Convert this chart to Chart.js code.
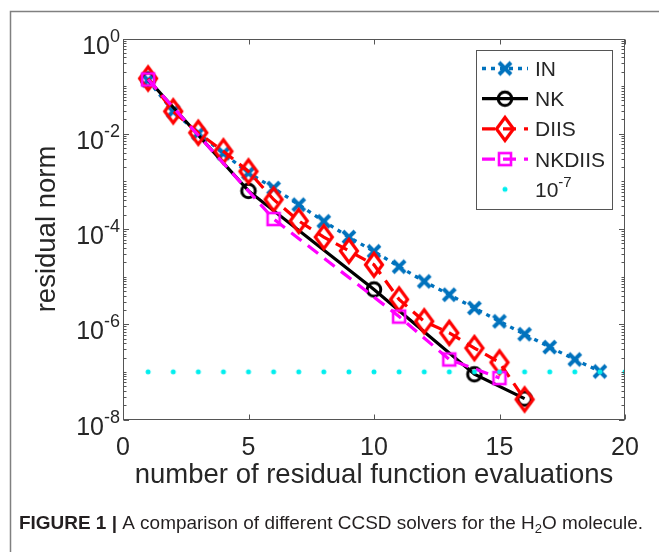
<!DOCTYPE html>
<html><head><meta charset="utf-8">
<script src="https://cdn.jsdelivr.net/npm/chart.js@4.4.1/dist/chart.umd.min.js"></script>
<style>html,body{margin:0;padding:0;background:#fff}canvas{display:block}</style>
</head><body>
<canvas id="c" width="659" height="552"></canvas>
<script>
// ---- data ----
const xTicks = [0, 5, 10, 15, 20];
const yTicks = [1, 1e-2, 1e-4, 1e-6, 1e-8];
const yTickBase = '10';
const yTickExp = ['0', '-2', '-4', '-6', '-8'];
const legendNames = ['IN', 'NK', 'DIIS', 'NKDIIS', '10'];
const thresholdExp = '-7';
const xTitle = 'number of residual function evaluations';
const yTitle = 'residual norm';

const inX = [1, 2, 3, 4, 5, 6, 7, 8, 9, 10, 11, 12, 13, 14, 15, 16, 17, 18, 19];
const inY = [0.132, 0.0295, 0.0102, 3.89e-3, 1.51e-3, 7.24e-4, 3.24e-4, 1.45e-4, 6.76e-5, 3.39e-5,
             1.62e-5, 7.94e-6, 4.17e-6, 2.19e-6, 1.15e-6, 6.17e-7, 3.31e-7, 1.82e-7, 1.02e-7];
const nkX = [1, 5, 10, 14, 16];
const nkY = [0.138, 6.31e-4, 5.37e-6, 8.91e-8, 2.75e-8];
const diisX = [1, 2, 3, 4, 5, 6, 7, 8, 9, 10, 11, 12, 13, 14, 15, 16];
const diisY = [0.145, 0.0295, 0.0105, 4.27e-3, 1.62e-3, 4.17e-4, 1.48e-4, 6.76e-5, 3.47e-5, 1.78e-5,
               3.31e-6, 1.15e-6, 6.61e-7, 3.16e-7, 1.58e-7, 2.63e-8];
const nkdiisX = [1, 6, 11, 13, 15];
const nkdiisY = [0.138, 1.62e-4, 1.45e-6, 1.82e-7, 7.41e-8];
const threshX = [1, 2, 3, 4, 5, 6, 7, 8, 9, 10, 11, 12, 13, 14, 15, 16, 17, 18, 19, 20];
const threshY = [1e-7, 1e-7, 1e-7, 1e-7, 1e-7, 1e-7, 1e-7, 1e-7, 1e-7, 1e-7,
                 1e-7, 1e-7, 1e-7, 1e-7, 1e-7, 1e-7, 1e-7, 1e-7, 1e-7, 1e-7];

// ---- styling ----
const FONT = '"Liberation Sans", Arial, Helvetica, sans-serif';
const TXT = '#262626';
const C_IN = '#0072BD', C_NK = '#000000', C_DIIS = '#FF0000', C_NKD = '#FF00FF', C_TH = '#00EEEE';

function mk(w, h, fn) {
  const c = document.createElement('canvas'); c.width = w; c.height = h;
  const g = c.getContext('2d'); fn(g, w / 2, h / 2); return c;
}
const mX = mk(20, 20, (g, cx, cy) => {
  g.strokeStyle = C_IN; g.lineWidth = 4; g.beginPath();
  g.moveTo(cx - 6, cy - 6); g.lineTo(cx + 6, cy + 6);
  g.moveTo(cx + 6, cy - 6); g.lineTo(cx - 6, cy + 6); g.stroke();
});
const mO = mk(22, 22, (g, cx, cy) => {
  g.strokeStyle = C_NK; g.lineWidth = 3; g.beginPath(); g.arc(cx, cy, 6.8, 0, Math.PI * 2); g.stroke();
});
const mD = mk(28, 34, (g, cx, cy) => {
  g.strokeStyle = C_DIIS; g.lineWidth = 3.2; g.lineJoin = 'miter'; g.beginPath();
  g.moveTo(cx, cy - 11.5); g.lineTo(cx + 8.5, cy); g.lineTo(cx, cy + 11.5); g.lineTo(cx - 8.5, cy); g.closePath(); g.stroke();
});
const mS = mk(20, 20, (g, cx, cy) => {
  g.strokeStyle = C_NKD; g.lineWidth = 2.6; g.strokeRect(cx - 6, cy - 6, 12, 12);
});
const mDot = mk(8, 8, (g, cx, cy) => {
  g.fillStyle = C_TH; g.beginPath(); g.arc(cx, cy, 2.5, 0, Math.PI * 2); g.fill();
});

const pts = (xs, ys) => xs.map((x, i) => ({ x: x, y: ys[i] }));

const datasets = [
  { label: legendNames[0], data: pts(inX, inY), borderColor: C_IN, borderWidth: 3.3, borderDash: [4, 5],
    pointStyle: mX, pointRadius: 8, order: 5, _marker: mX },
  { label: legendNames[1], data: pts(nkX, nkY), borderColor: C_NK, borderWidth: 3.2, borderDash: [],
    pointStyle: mO, pointRadius: 8, order: 4, _marker: mO },
  { label: legendNames[2], data: pts(diisX, diisY), borderColor: C_DIIS, borderWidth: 3.2, borderDash: [13, 8],
    pointStyle: mD, pointRadius: 8, order: 3, _marker: mD },
  { label: legendNames[3], data: pts(nkdiisX, nkdiisY), borderColor: C_NKD, borderWidth: 3.2, borderDash: [13, 8],
    pointStyle: mS, pointRadius: 8, order: 2, _marker: mS },
  { label: legendNames[4], data: pts(threshX, threshY), borderColor: C_TH, borderWidth: 0, showLine: false,
    pointStyle: mDot, pointRadius: 3, order: 1, _marker: mDot }
];
datasets.forEach(d => { d.fill = false; d.tension = 0; d.backgroundColor = 'rgba(0,0,0,0)'; });

const deco = {
  id: 'deco',
  beforeDraw(chart) {
    const ctx = chart.ctx; ctx.save(); ctx.fillStyle = '#fff'; ctx.fillRect(0, 0, chart.width, chart.height); ctx.restore();
  },
  afterDraw(chart) {
    const ctx = chart.ctx, xs = chart.scales.x, ys = chart.scales.y, a = chart.chartArea;
    ctx.save();
    // outer frame
    ctx.strokeStyle = '#808080'; ctx.lineWidth = 1.5; ctx.beginPath();
    ctx.moveTo(10.5, 552); ctx.lineTo(10.5, 11.5); ctx.lineTo(659, 11.5); ctx.stroke();

    // axes box
    const L = Math.round(a.left) + 0.5, R = Math.round(a.right) - 0.5, T = Math.round(a.top) + 0.5, B = Math.round(a.bottom) - 0.5;
    ctx.strokeStyle = '#555'; ctx.lineWidth = 1;
    ctx.strokeRect(L, T, R - L, B - T);
    ctx.beginPath();
    xTicks.forEach(v => {
      const p = Math.round(xs.getPixelForValue(v)) + 0.5;
      ctx.moveTo(p, B); ctx.lineTo(p, B - 5);
      ctx.moveTo(p, T); ctx.lineTo(p, T + 5);
    });
    // y major + minor ticks
    for (let e = 0; e >= -8; e--) {
      for (let k = 1; k <= 9; k++) {
        const v = k * Math.pow(10, e);
        if (v > 1.0000001 || v < 0.99e-8) continue;
        const p = Math.round(ys.getPixelForValue(v)) + 0.5;
        const len = (k === 1) ? ((e % 2 === 0) ? 5.5 : 3) : 3;
        ctx.moveTo(L, p); ctx.lineTo(L + len, p);
        ctx.moveTo(R, p); ctx.lineTo(R - len, p);
      }
    }
    ctx.stroke();

    // y tick labels with superscript
    ctx.fillStyle = TXT; ctx.textBaseline = 'alphabetic';
    yTicks.forEach((v, i) => {
      const p = ys.getPixelForValue(v);
      ctx.font = '18px ' + FONT;
      const ew = ctx.measureText(yTickExp[i]).width;
      const rx = 120;
      ctx.textAlign = 'left';
      ctx.fillText(yTickExp[i], rx - ew, p + 3);
      ctx.font = '25px ' + FONT;
      ctx.textAlign = 'right';
      ctx.fillText(yTickBase, rx - ew, p + 15);
    });

    // legend
    const lx0 = 476.5, ly0 = 50.5, lx1 = 612.5, ly1 = 209.5;
    ctx.fillStyle = '#fff'; ctx.fillRect(lx0, ly0, lx1 - lx0, ly1 - ly0);
    ctx.strokeStyle = '#555'; ctx.lineWidth = 1; ctx.strokeRect(lx0, ly0, lx1 - lx0, ly1 - ly0);
    chart.data.datasets.forEach((d, i) => {
      const y = 68.5 + i * 30.2;
      if (d.showLine !== false) {
        ctx.save();
        ctx.strokeStyle = d.borderColor; ctx.lineWidth = d.borderWidth; ctx.setLineDash(d.borderDash || []);
        ctx.beginPath(); ctx.moveTo(482, y); ctx.lineTo(528, y); ctx.stroke();
        ctx.restore();
      }
      const m = d._marker;
      ctx.drawImage(m, 505 - m.width / 2, y - m.height / 2);
      ctx.fillStyle = TXT; ctx.textAlign = 'left';
      ctx.font = '21px ' + FONT;
      ctx.fillText(d.label, 535, y + 7.5);
      if (i === 4) {
        const w = ctx.measureText(d.label).width;
        ctx.font = '15px ' + FONT;
        ctx.fillText(thresholdExp, 535 + w, y - 2);
      }
    });

    // caption
    const base = 529, x0 = 19, target = 624;
    const s1 = 'FIGURE 1 |', s2 = ' A comparison of different CCSD solvers for the H', s3 = '2', s4 = 'O molecule.';
    const fb = 'bold 17.5px ' + FONT, fr = '17.5px ' + FONT, fs = '12px ' + FONT;
    ctx.font = fb; const w1 = ctx.measureText(s1).width;
    ctx.font = fr; const w2 = ctx.measureText(s2).width; const w4 = ctx.measureText(s4).width;
    ctx.font = fs; const w3 = ctx.measureText(s3).width;
    const sx = target / (w1 + w2 + w3 + w4);
    ctx.translate(x0, base); ctx.scale(sx, 1);
    ctx.fillStyle = '#231f20'; ctx.textAlign = 'left';
    ctx.font = fb; ctx.fillText(s1, 0, 0);
    ctx.font = fr; ctx.fillText(s2, w1, 0);
    ctx.font = fs; ctx.fillText(s3, w1 + w2, 4);
    ctx.font = fr; ctx.fillText(s4, w1 + w2 + w3, 0);
    ctx.restore();
  }
};

new Chart(document.getElementById('c'), {
  type: 'line',
  data: { datasets: datasets },
  plugins: [deco],
  options: {
    responsive: false, animation: false, devicePixelRatio: 1,
    layout: { padding: { top: 38.5, right: 34, bottom: 52.5, left: 0 } },
    plugins: { legend: { display: false }, tooltip: { enabled: false } },
    scales: {
      x: {
        type: 'linear', min: 0, max: 20,
        afterBuildTicks: s => { s.ticks = xTicks.map(v => ({ value: v })); },
        afterFit: s => { s.height = 80; },
        grid: { display: false, drawTicks: false }, border: { display: false },
        ticks: { color: TXT, font: { family: FONT, size: 25, lineHeight: 1 }, padding: 16, maxRotation: 0 },
        title: { display: true, text: xTitle, color: TXT, font: { family: FONT, size: 27.5, lineHeight: 1 }, padding: { top: 0, bottom: 10 } }
      },
      y: {
        type: 'logarithmic', min: 1e-8, max: 1,
        afterFit: s => { s.width = 123; },
        grid: { display: false, drawTicks: false }, border: { display: false },
        ticks: { display: false },
        title: { display: true, text: yTitle, color: TXT, font: { family: FONT, size: 27.5, lineHeight: 1 }, padding: { top: 34, bottom: 0 } }
      }
    }
  }
});
</script>
</body></html>
